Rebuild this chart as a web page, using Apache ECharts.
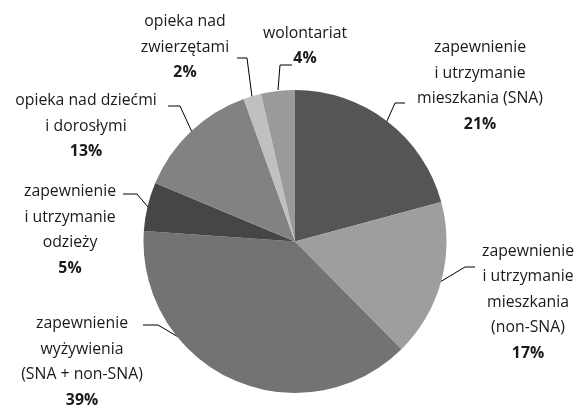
<!DOCTYPE html>
<html>
<head>
<meta charset="utf-8">
<script src="https://cdn.jsdelivr.net/npm/echarts@6/dist/echarts.min.js"></script>
<style>html,body{margin:0;padding:0;background:#fff}#c{width:580px;height:407px}</style>
</head>
<body>
<div id="c"></div>
<script>
const categories = [
  'zapewnienie\ni utrzymanie\nmieszkania (SNA)',
  'zapewnienie\ni utrzymanie\nmieszkania\n(non-SNA)',
  'zapewnienie\nwyżywienia\n(SNA + non-SNA)',
  'zapewnienie\ni utrzymanie\nodzieży',
  'opieka nad dziećmi\ni dorosłymi',
  'opieka nad\nzwierzętami',
  'wolontariat'
];
const values = [20.8, 16.8, 38.5, 5.2, 13.2, 1.9, 3.6];
const percentLabels = ['21%', '17%', '39%', '5%', '13%', '2%', '4%'];
const colors = ['#555555', '#9e9e9e', '#737373', '#464646', '#828282', '#c0c0c0', '#9a9a9a'];

// label layout (block centre + leader line)
const labelPos = [
  {x: 480, y: 86,  pts: [[387,121],[395,103],[405,103]]},
  {x: 528, y: 302, pts: [[440,282],[465,267],[475,267]]},
  {x: 82,  y: 362, pts: [[180,338],[158,325],[143,325]]},
  {x: 70,  y: 230, pts: [[148,207],[137,194],[123,194]]},
  {x: 86,  y: 126, pts: [[192,132],[180,106],[168,106]]},
  {x: 185, y: 47,  pts: [[252,97],[247,58],[237,58]]},
  {x: 305, y: 46,  pts: [[278,90],[280,65],[292,65]]}
];

const chart = echarts.init(document.getElementById('c'), null, {renderer: 'canvas'});
chart.setOption({
  animation: false,
  backgroundColor: '#ffffff',
  series: [{
    type: 'pie',
    center: [295, 241.5],
    radius: 151.5,
    startAngle: 90,
    clockwise: true,
    data: categories.map((n, i) => ({name: n, value: values[i], itemStyle: {color: colors[i]}})),
    itemStyle: {borderWidth: 0},
    label: {
      show: true,
      position: 'outside',
      overflow: 'none',
      fontFamily: 'Open Sans',
      fontSize: 15.8,
      color: '#1a1a1a',
      lineHeight: 25.5,
      align: 'center',
      formatter: p => p.name + '\n{b|' + percentLabels[p.dataIndex] + '}',
      rich: {
        b: {fontFamily: 'Open Sans', fontSize: 15.8, fontWeight: 'bold', color: '#1a1a1a', lineHeight: 25.5}
      }
    },
    labelLine: {show: true, lineStyle: {color: '#000', width: 1}},
    labelLayout: function (params) {
      const l = labelPos[params.dataIndex];
      return {x: l.x, y: l.y, align: 'center', verticalAlign: 'middle', labelLinePoints: l.pts};
    },
    emphasis: {disabled: true}
  }]
});
</script>
</body>
</html>
